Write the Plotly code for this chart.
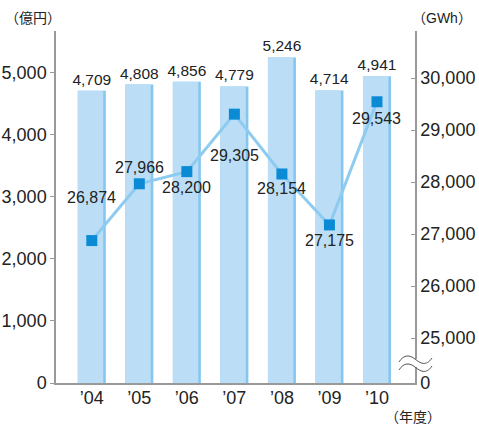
import plotly.graph_objects as go

categories = ["’04", "’05", "’06", "’07", "’08", "’09", "’10"]
sales = [4709, 4808, 4856, 4779, 5246, 4714, 4941]          # 億円
energy = [26874, 27966, 28200, 29305, 28154, 27175, 29543]   # GWh
left_ticks = [0, 1000, 2000, 3000, 4000, 5000]
right_ticks = [25000, 26000, 27000, 28000, 29000, 30000]
label_shift = [43, 16, -16, -41, -14, -16, -17]

FONT = "Liberation Sans, Arial, Noto Sans CJK JP"
TXT = "#222222"

# plot area in pixels
L, R, T, B = 56, 415, 31, 383
W, H = 479, 428
PW, PH = R - L, B - T

Y2MIN, Y2MAX = 24135, 30904

fig = go.Figure()
fig.add_trace(go.Bar(
    x=categories, y=sales, width=0.589, offset=-0.2945,
    marker=dict(color="#84c6ef", line=dict(width=0)),
    text=[f"{v:,}" for v in sales], textposition="outside", cliponaxis=False,
    constraintext="none",
    textfont=dict(size=15.5, color=TXT, family=FONT), showlegend=False, hoverinfo="skip"))
fig.add_trace(go.Bar(
    x=categories, y=sales, width=0.535, offset=-0.2945,
    marker=dict(color="#bbdef6", line=dict(width=0)),
    showlegend=False, hoverinfo="skip"))
fig.add_trace(go.Scatter(
    x=categories, y=energy, yaxis="y2", mode="lines+markers",
    line=dict(color="#8dcbf0", width=3),
    marker=dict(symbol="square", size=11, color="#0b8bd6"),
    showlegend=False, cliponaxis=False))

for c, v, s in zip(categories, energy, label_shift):
    fig.add_annotation(x=c, y=v, xref="x", yref="y2", text=f"{v:,}", showarrow=False,
                       yshift=s, font=dict(size=16, color=TXT, family=FONT))

def px(x, y):
    return ((x - L) / PW, (B - y) / PH)

def path(pts):
    p = [px(*q) for q in pts]
    s = f"M {p[0][0]:.5f},{p[0][1]:.5f} "
    s += "C " + " ".join(f"{a:.5f},{b:.5f}" for a, b in p[1:4]) + " "
    s += "S " + " ".join(f"{a:.5f},{b:.5f}" for a, b in p[4:6])
    return s

# break marks on right axis
x0, y0 = px(412, 359)
x1, y1 = px(418, 367)
fig.add_shape(type="rect", xref="paper", yref="paper", x0=x0, x1=x1, y0=y1, y1=y0,
              fillcolor="white", line=dict(width=0), layer="above")
for dy in (0, 8):
    pts = [(399, 362 + dy), (404, 354 + dy), (410, 355 + dy), (415, 359 + dy),
           (426, 367 + dy), (432, 358 + dy)]
    fig.add_shape(type="path", xref="paper", yref="paper", path=path(pts),
                  line=dict(color="#555555", width=1), layer="above")

fig.add_annotation(xref="paper", yref="paper", x=(3 - L) / PW, y=(B - 18) / PH,
                   xanchor="left", yanchor="middle", text="（億円）", showarrow=False,
                   font=dict(size=14, color=TXT, family=FONT))
fig.add_annotation(xref="paper", yref="paper", x=(410 - L) / PW, y=(B - 18) / PH,
                   xanchor="left", yanchor="middle", text="（GWh）", showarrow=False,
                   font=dict(size=14, color=TXT, family=FONT))
fig.add_annotation(xref="paper", yref="paper", x=(413 - L) / PW, y=(B - 417) / PH,
                   xanchor="center", yanchor="middle", text="（年度）", showarrow=False,
                   font=dict(size=14, color=TXT, family=FONT))

fig.update_layout(
    width=W, height=H, margin=dict(l=L, r=W - R, t=T, b=H - B, autoexpand=False),
    paper_bgcolor="white", plot_bgcolor="white", barmode="overlay",
    font=dict(family=FONT, color=TXT),
    xaxis=dict(range=[-0.753, 6.80], showline=True, linecolor="#999999", linewidth=1.5,
               ticks="", showgrid=False, ticklabelstandoff=-2,
               tickfont=dict(size=18, color=TXT, family=FONT)),
    yaxis=dict(range=[0, (B - T) / 62.06 * 1000], tickvals=left_ticks, tickformat=",",
               showline=True, linecolor="#999999", linewidth=1.5, ticks="outside", ticklen=4,
               tickcolor="#999999", showgrid=False, zeroline=False,
               tickfont=dict(size=18, color=TXT, family=FONT)),
    yaxis2=dict(overlaying="y", side="right", range=[Y2MIN, Y2MAX],
                tickvals=[Y2MIN] + right_ticks,
                ticktext=["0"] + [f"{v:,}" for v in right_ticks],
                showline=True, linecolor="#999999", linewidth=1.5, ticks="inside", ticklen=4,
                tickcolor="#999999", showgrid=False, zeroline=False,
                tickfont=dict(size=18, color=TXT, family=FONT)),
)

fig.write_html("out.html", config={"displayModeBar": False},
               post_script="document.body.style.margin='0';document.body.style.overflow='hidden';")
